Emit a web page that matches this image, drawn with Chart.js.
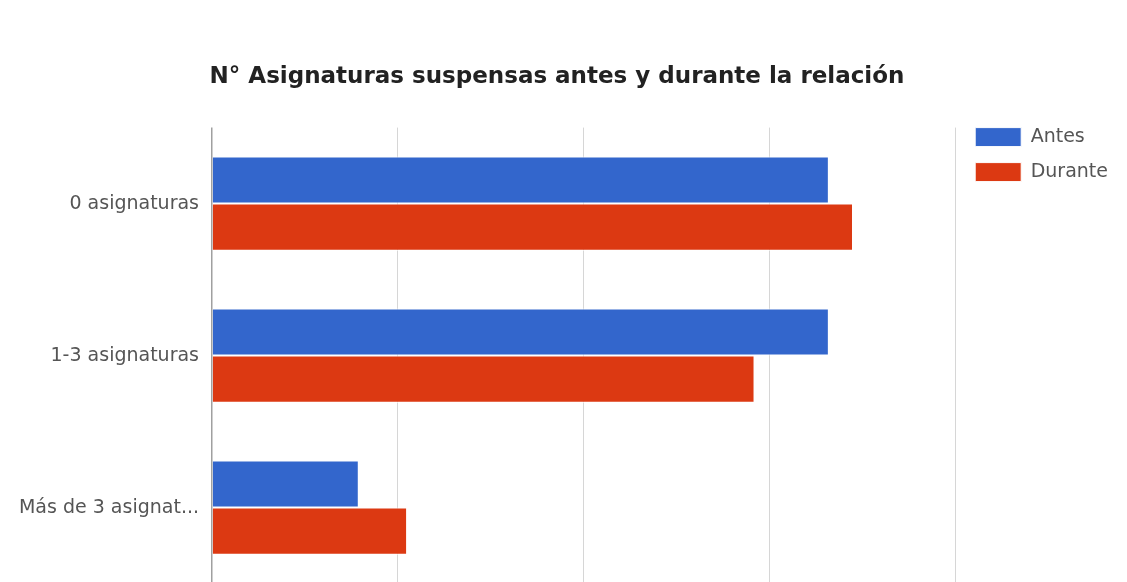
<!DOCTYPE html>
<html>
<head>
<meta charset="utf-8">
<title>Asignaturas suspensas</title>
<script src="https://cdn.jsdelivr.net/npm/chart.js@4.4.0/dist/chart.umd.min.js"></script>
<style>
  html, body { margin: 0; padding: 0; background: #fff; overflow: hidden; }
  #wrap { width: 1127px; height: 608px; }
</style>
</head>
<body>
<div id="wrap"><canvas id="barras"></canvas></div>
<script>
const categorias = ["0 asignaturas", "1-3 asignaturas", "Más de 3 asignat..."];
const antes = [33.2, 33.2, 7.9];
const durante = [34.5, 29.2, 10.5];
const titulo = "N° Asignaturas suspensas antes y durante la relación";
const ejeMin = 0;
const ejeMax = 40;
const ejePaso = 10;

// the legend sits beside the plot, lined up with the top of the plot area
const legendShift = {
  id: "legendShift",
  afterLayout(chart) {
    const legend = chart.legend;
    const pad = legend.options.labels.padding;
    const h = legend.bottom - legend.top;
    legend.top = chart.chartArea.top - pad;
    legend.bottom = legend.top + h;
    legend.left += 4;
    legend.right += 4;
  },
};

function renderBarChart() {
  const context = document.querySelector("#barras").getContext("2d");
  const data = {
    labels: categorias,
    datasets: [
      {
        label: "Antes",
        data: antes,
        backgroundColor: "#3366cc",
        borderColor: "#ffffff",
        borderWidth: 1,
        borderSkipped: "start",
      },
      {
        label: "Durante",
        data: durante,
        backgroundColor: "#dc3912",
        borderColor: "#ffffff",
        borderWidth: 1,
        borderSkipped: "start",
      },
    ],
  };

  return new Chart(context, {
    type: "bar",
    data: data,
    plugins: [legendShift],
    options: {
      indexAxis: "y",
      responsive: true,
      maintainAspectRatio: false,
      animation: false,
      categoryPercentage: 0.62,
      barPercentage: 1.0,
      layout: {
        padding: { left: 0, right: 13, top: 0, bottom: 0 },
      },
      scales: {
        x: {
          min: ejeMin,
          max: ejeMax,
          ticks: { display: false, stepSize: ejePaso },
          border: { display: false },
          grid: {
            drawTicks: false,
            color: (ctx) => (ctx.tick && ctx.tick.value === 0 ? "#a0a0a0" : "#d6d6d6"),
            lineWidth: (ctx) => (ctx.tick && ctx.tick.value === 0 ? 1.5 : 1),
          },
        },
        y: {
          border: { display: false },
          grid: { display: false, drawTicks: false },
          ticks: {
            padding: 13,
            color: "#555",
            font: { family: "DejaVu Sans", size: 19 },
          },
          afterFit(scale) {
            scale.width = 212;
          },
        },
      },
      plugins: {
        title: {
          display: true,
          text: titulo,
          color: "#222",
          font: { family: "DejaVu Sans", size: 23, weight: "bold" },
          padding: { top: 63, bottom: 37 },
        },
        legend: {
          position: "right",
          align: "start",
          labels: {
            boxWidth: 46,
            boxHeight: 19,
            padding: 16,
            color: "#555",
            font: { family: "DejaVu Sans", size: 19 },
          },
        },
        tooltip: { enabled: false },
      },
    },
  });
}

renderBarChart();
</script>
</body>
</html>
